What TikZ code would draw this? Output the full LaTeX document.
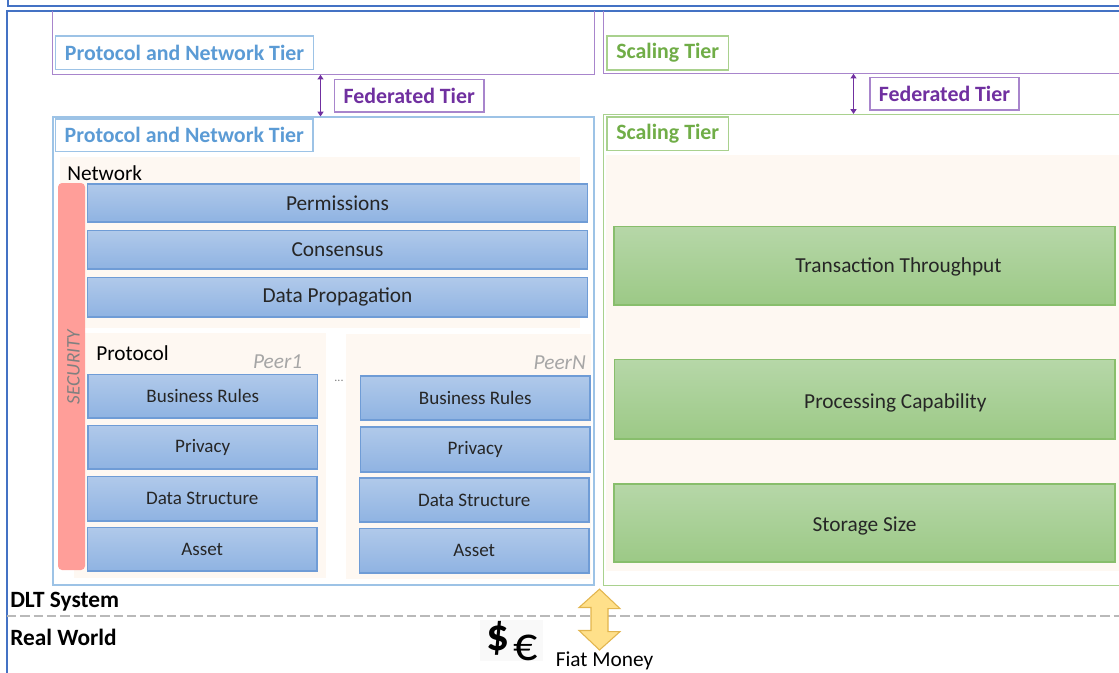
\documentclass[tikz,border=0pt]{standalone}
\usepackage{fontspec}
\setmainfont{Carlito}
\usetikzlibrary{fit,arrows.meta,calc}

\definecolor{frameblue}{HTML}{4472C4}
\definecolor{tierblue}{HTML}{5B9BD5}
\definecolor{tierblueline}{HTML}{9DC3E6}
\definecolor{tiergreen}{HTML}{70AD47}
\definecolor{tiergreenline}{HTML}{A9D18E}
\definecolor{fedpurple}{HTML}{7030A0}
\definecolor{fedline}{HTML}{A885CC}
\definecolor{cream}{HTML}{FEF8F2}
\definecolor{bluetop}{HTML}{B0C9EA}
\definecolor{bluebot}{HTML}{8FB3E2}
\definecolor{blueedge}{HTML}{6F9CD6}
\definecolor{greentop}{HTML}{B6D7A8}
\definecolor{greenbot}{HTML}{9CC986}
\definecolor{greenedge}{HTML}{88BE6C}
\definecolor{secred}{HTML}{FF9E99}
\definecolor{arrowfill}{HTML}{FFE08A}
\definecolor{arrowedge}{HTML}{E2B54E}
\definecolor{inktext}{HTML}{262626}
\definecolor{peergray}{HTML}{A6A6A6}

\newcommand\sizeL{\fontsize{16}{19}\selectfont}
\newcommand\sizeB{\fontsize{16.4}{19}\selectfont}
\newcommand\sizeM{\fontsize{14.3}{17}\selectfont}

\tikzset{
  frameline/.style={draw=frameblue, line width=1.3pt},
  fedframe/.style={draw=fedline, line width=0.9pt},
  labelframe/.style={fill=white, line width=0.9pt, inner sep=0pt},
  tierbluetext/.style={text=tierblue, font=\sizeB\bfseries, inner sep=0pt},
  tiergreentext/.style={text=tiergreen, font=\sizeB\bfseries, inner sep=0pt},
  fedtext/.style={text=fedpurple, font=\sizeB\bfseries, inner sep=0pt},
  fedarrow/.style={draw=fedpurple, line width=0.8pt,
                   {Triangle[length=3.5pt,width=4.5pt]}-{Triangle[length=3.5pt,width=4.5pt]}},
  creamarea/.style={fill=cream, inner sep=0pt},
  netbox/.style={draw=blueedge, top color=bluetop, bottom color=bluebot, line width=0.8pt,
                 inner sep=0pt},
  scalebox/.style={draw=greenedge, top color=greentop, bottom color=greenbot, line width=0.8pt,
                   inner sep=0pt},
  boxtext/.style={text=inktext, font=\sizeL, inner sep=0pt},
  peertext/.style={text=inktext, font=\sizeM, inner sep=0pt},
  plaintext/.style={text=black, font=\sizeL, inner sep=0pt, anchor=west},
  peername/.style={text=peergray, font=\sizeL\itshape, inner sep=0pt, anchor=east},
  worldtext/.style={text=black, font=\fontsize{17.5}{20}\selectfont\bfseries, inner sep=0pt, anchor=west},
}

\begin{document}
\begin{tikzpicture}[x=0.75pt, y=-0.75pt]
\useasboundingbox (0,0) rectangle (1119,672);
\clip (0,0) rectangle (1119,672);

% outer frames of the system view
\draw[frameline] (8,-5) -- (8,6) -- (1130,6);
\draw[frameline] (1130,11) -- (7,11) -- (7,690);

% federated peers of both tiers
\node[fit={(52.5,11)(594,74.5)}, inner sep=0pt] (upl) {};
\draw[fedframe] (upl.north west) |- (upl.south east) -- (upl.north east);
\node[fit={(603.5,11)(1130,73.5)}, inner sep=0pt] (upr) {};
\draw[fedframe] (upr.north west) |- (upr.south east);
\node[labelframe, draw=tierblueline, fit={(55.5,36)(313.5,69.5)},
      label={[tierbluetext]center:Protocol and Network Tier}] (upllab) {};
\node[labelframe, draw=tiergreenline, fit={(607,36)(728.5,70)},
      label={[tiergreentext]center:Scaling Tier}] (uprlab) {};

% local tiers
\node[fit={(53,117)(594,585)}, inner sep=0pt, draw=tierblueline, line width=0.9pt] (ptier) {};
\node[fit={(603.5,114.5)(1135,585.5)}, inner sep=0pt, draw=tiergreenline, line width=0.9pt] (stier) {};
\node[labelframe, draw=tierblueline, fit={(55.5,119)(313,151.5)},
      label={[tierbluetext]center:Protocol and Network Tier}] (ptierlab) {};
\node[labelframe, draw=tiergreenline, fit={(607,117)(728.5,150.5)},
      label={[tiergreentext]center:Scaling Tier}] (stierlab) {};

% federation links
\coordinate (fedl) at (320.5,0);
\coordinate (fedr) at (853.5,0);
\draw[fedarrow] (upl.south -| fedl) -- (ptier.north -| fedl);
\draw[fedarrow] (upr.south -| fedr) -- (stier.north -| fedr);
\node[labelframe, draw=fedline, fit={(334.5,79.5)(484,112)},
      label={[fedtext]center:Federated Tier}] (fedllab) {};
\node[labelframe, draw=fedline, fit={(870,77.5)(1019,110)},
      label={[fedtext]center:Federated Tier}] (fedrlab) {};

% background areas
\node[creamarea, fit={(60,157)(580,328)}] (netarea) {};
\node[creamarea, fit={(74,333)(326,578)}] (peer1area) {};
\node[creamarea, fit={(346,334)(591,579)}] (peerNarea) {};
\node[creamarea, fit={(606,155)(1119,571)}] (scalearea) {};

% network layer
\node[plaintext] (network) at (67,173) {Network};
\node[fill=secred, rounded corners=3pt, inner sep=0pt, fit={(58,183)(85,570)}] (security) {};
\node[rotate=90, text=gray, font=\fontsize{14.4}{17}\selectfont\itshape, inner sep=0pt] (sectext) at (73.5,367) {SECURITY};
\node[netbox, fit={(87.5,184)(587.5,222)}, label={[boxtext]center:Permissions}] (perm) {};
\node[netbox, fit={(87.5,230.5)(587.5,269)}, label={[boxtext]center:Consensus}] (cons) {};
\node[netbox, fit={(87.5,277.5)(587.5,317)}, label={[boxtext]center:Data Propagation}] (prop) {};

% protocol layer, first peer
\node[plaintext] (protocol) at (96,353) {Protocol};
\node[peername] (peer1) at (302.5,362) {Peer1};
\node[netbox, fit={(88,374.5)(317.5,418)}, label={[peertext]center:Business Rules}] (br1) {};
\node[netbox, fit={(88,425.5)(317.5,469)}, label={[peertext]center:Privacy}] (pr1) {};
\node[netbox, fit={(87.5,476.5)(317,521)}, label={[peertext]center:Data Structure}] (ds1) {};
\node[netbox, fit={(87.5,527.5)(317,571)}, label={[peertext]center:Asset}] (as1) {};

\node[text=gray, font=\fontsize{9}{10}\selectfont, inner sep=0pt] (dots) at (339,381) {...};

% protocol layer, last peer
\node[peername] (peerN) at (586,363) {PeerN};
\node[netbox, fit={(360.5,376)(590,420)}, label={[peertext]center:Business Rules}] (brN) {};
\node[netbox, fit={(360.5,427)(590,472)}, label={[peertext]center:Privacy}] (prN) {};
\node[netbox, fit={(359.5,478)(589,522)}, label={[peertext]center:Data Structure}] (dsN) {};
\node[netbox, fit={(359.5,528.5)(589,573)}, label={[peertext]center:Asset}] (asN) {};

% scaling dimensions
\node[scalebox, fit={(614,226.5)(1115,305)},
      label={[boxtext, xshift=25.5pt, yshift=-0.6pt]center:Transaction Throughput}] (tput) {};
\node[scalebox, fit={(614.5,359.5)(1115,439)},
      label={[boxtext, xshift=23pt, yshift=-2.4pt]center:Processing Capability}] (proc) {};
\node[scalebox, fit={(614,484)(1115,562)},
      label={[boxtext, yshift=-2.4pt]center:Storage Size}] (store) {};

% boundary between the ledger and the real world
\node[worldtext] (dlt) at (10,602) {DLT System};
\coordinate (bleft) at (7,616);
\coordinate (bright) at (1125,616);
\draw[draw=gray!55, line width=0.8pt, dash pattern=on 7pt off 3pt] (bleft) -- (bright);
\node[worldtext] (real) at (10,637) {Real World};

% fiat money exchange
\node[fill=black!2.5, inner sep=0pt, fit={(480,620)(543,661)}] (fiatbg) {};
\node[font=\fontsize{34}{38}\selectfont\bfseries, inner sep=0pt] (dollar) at (498,638) {\$};
\node[font=\fontsize{36}{40}\selectfont, inner sep=0pt] (euro) at (526,648) {€};
\node[plaintext] (fiat) at (555.5,661) {Fiat Money};

\coordinate (fx) at (599.5,0);
\draw[fill=arrowfill, draw=arrowedge, line width=0.8pt, line join=miter]
  ($(stier.south -| fx)+(0,3)$) coordinate (ftop)
  -- ++(20.5,19.5) -- ++(-12,0) -- ++(0,23) -- ++(12,0) -- (599.5,650)
  -- ++(-20.5,-19.5) -- ++(12,0) -- ++(0,-23) -- ++(-12,0) -- cycle;
\end{tikzpicture}
\end{document}
